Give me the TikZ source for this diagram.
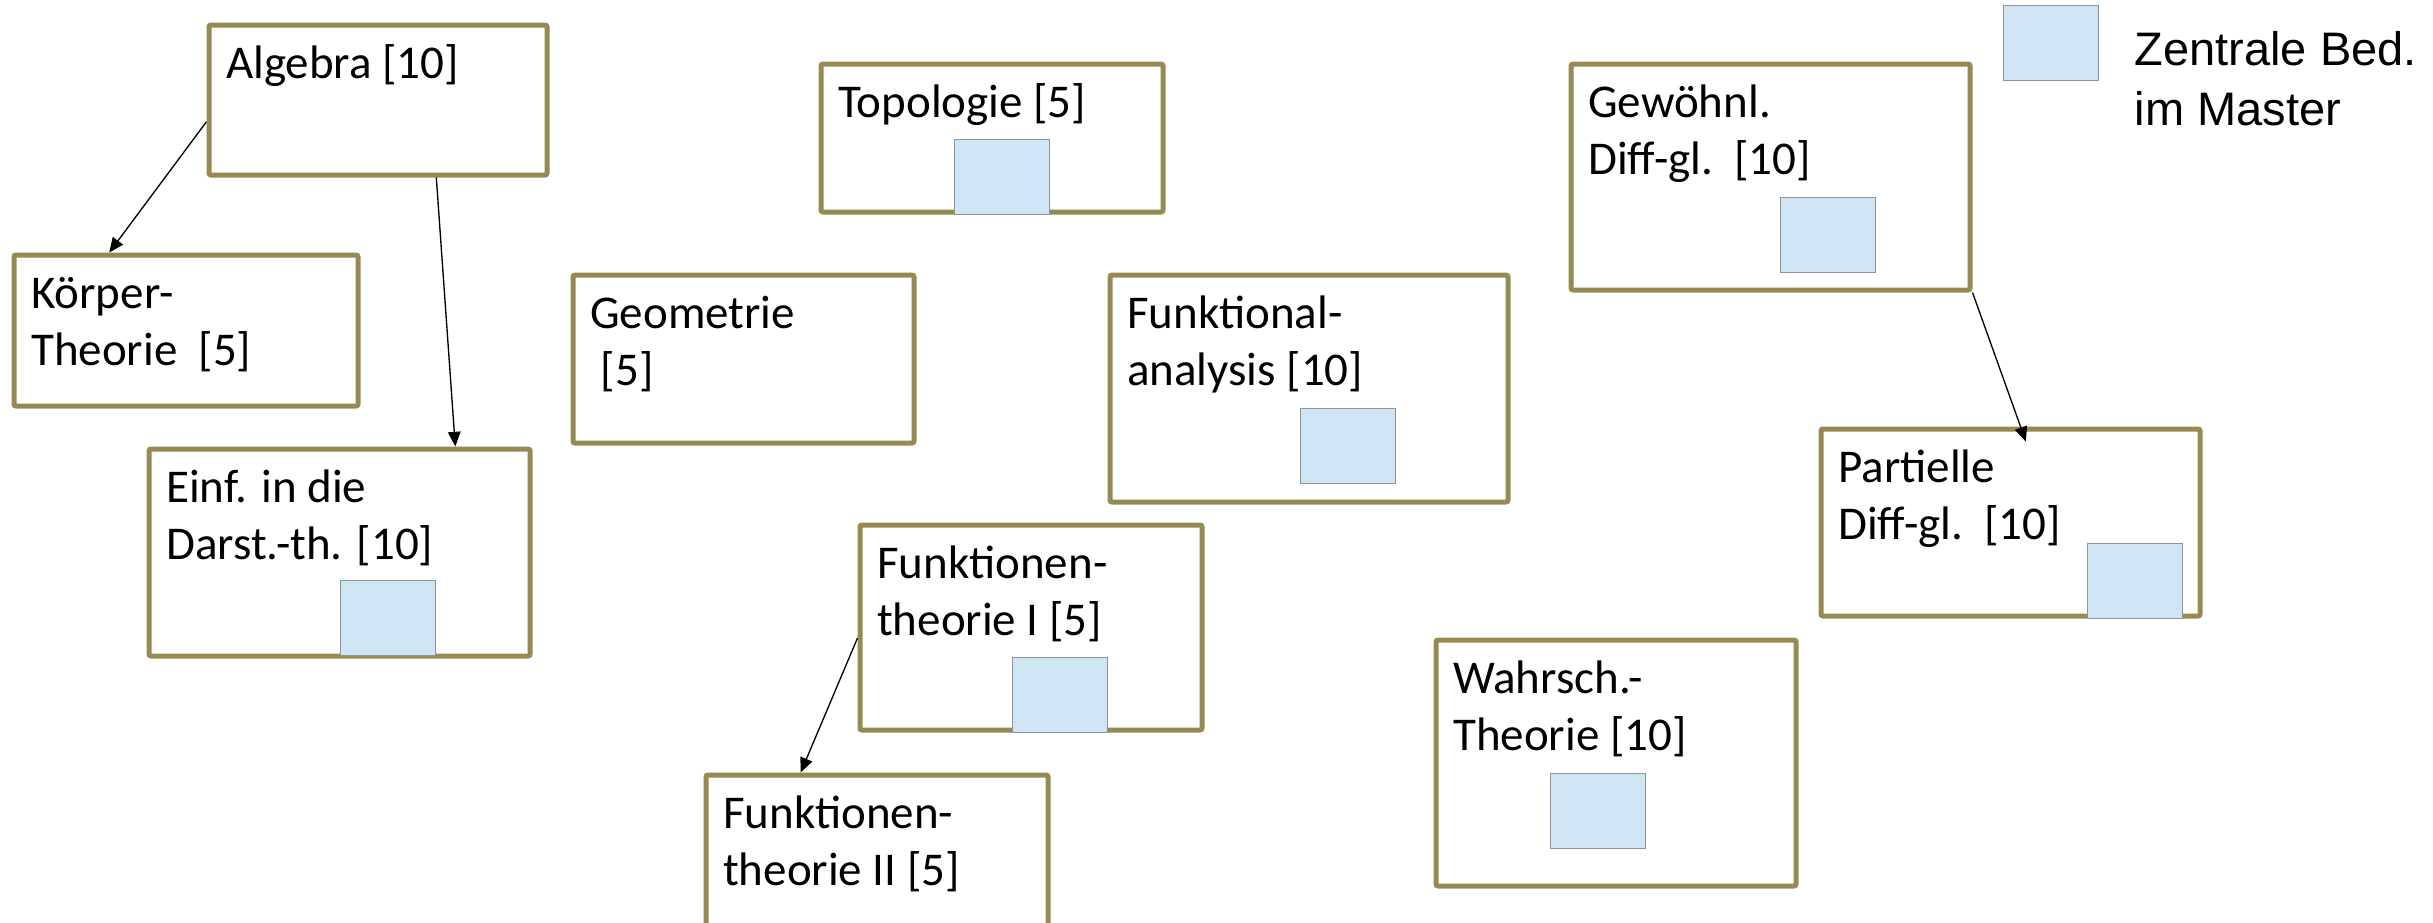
\documentclass[tikz,border=0pt]{standalone}
\usepackage{fontspec}
\setmainfont{Carlito}
\newfontfamily\legendfont{Liberation Sans}
\usepackage{tikz}
\usetikzlibrary{arrows.meta, calc}

\definecolor{boxolive}{HTML}{968A52}
\definecolor{masterblue}{HTML}{CFE5F3}
\definecolor{mastergray}{HTML}{8E9499}

\begin{document}
\begin{tikzpicture}[x=0.3pt, y=-0.3pt,
    modul/.style={draw=boxolive, line width=1.5pt, rounded corners=0.6pt, fill=white, inner sep=0pt},
    titel/.style={anchor=base west, inner sep=0pt, align=left, font=\fontsize{14.1}{17.1}\selectfont},
    master/.style={draw=mastergray, line width=0.3pt, fill=masterblue, minimum width=28.5pt, minimum height=22.5pt, inner sep=0pt},
    pfeil/.style={-{Triangle[length=4.4pt, width=3.8pt]}, line width=0.4pt, black}]
    \clip (0,0) rectangle (2433,922);

    \node[modul, minimum width=101.4pt, minimum height=45pt]    (alg)     at (378,100)     {};
    \node[modul, minimum width=103.2pt, minimum height=45.3pt]  (koerper) at (186,330.5)   {};
    \node[modul, minimum width=114.3pt, minimum height=62.1pt]  (einf)    at (339.5,552.5) {};
    \node[modul, minimum width=102.6pt, minimum height=44.4pt]  (topo)    at (992,138)     {};
    \node[modul, minimum width=102.3pt, minimum height=50.4pt]  (geo)     at (743.5,359)   {};
    \node[modul, minimum width=119.4pt, minimum height=68.1pt]  (fana)    at (1309,388.5)  {};
    \node[modul, minimum width=102.6pt, minimum height=61.5pt]  (fth1)    at (1031,627.5)  {};
    \node[modul, minimum width=102.6pt, minimum height=61.5pt]  (fth2)    at (877,877.5)   {};
    \node[modul, minimum width=119.7pt, minimum height=67.8pt]  (gew)     at (1770.5,177)  {};
    \node[modul, minimum width=113.7pt, minimum height=56.1pt]  (part)    at (2010.5,522.5) {};
    \node[modul, minimum width=108pt,   minimum height=73.8pt]  (wahr)    at (1616,763)    {};

    % base = letzte Zeile
    \node[titel] (alg-t)     at ([shift={(19,56)}]alg.north west)      {Algebra [10]};
    \node[titel] (koerper-t) at ([shift={(19,113)}]koerper.north west) {Körper-\\Theorie\ \ [5]};
    \node[titel] (einf-t)    at ([shift={(19,113)}]einf.north west)    {Einf. in die\\Darst.-th. [10]};
    \node[titel] (topo-t)    at ([shift={(19,56)}]topo.north west)     {Topologie [5]};
    \node[titel] (geo-t)     at ([shift={(19,113)}]geo.north west)     {Geometrie\\\ [5]};
    \node[titel] (fana-t)    at ([shift={(19,113)}]fana.north west)    {Funktional-\\analysis [10]};
    \node[titel] (fth1-t)    at ([shift={(19,113)}]fth1.north west)    {Funktionen-\\theorie I [5]};
    \node[titel] (fth2-t)    at ([shift={(19,113)}]fth2.north west)    {Funktionen-\\theorie II [5]};
    \node[titel] (gew-t)     at ([shift={(19,113)}]gew.north west)     {Gewöhnl.\\Diff-gl.\ \ [10]};
    \node[titel] (part-t)    at ([shift={(19,113)}]part.north west)    {Partielle\\Diff-gl.\ \ [10]};
    \node[titel] (wahr-t)    at ([shift={(19,113)}]wahr.north west)    {Wahrsch.-\\Theorie [10]};

    % zentrale Bedeutung im Master
    \node[master] (einf-m) at (388,618)     {};
    \node[master] (topo-m) at (1002,177)    {};
    \node[master] (fana-m) at (1347.5,445.5) {};
    \node[master] (fth1-m) at (1060,695)    {};
    \node[master] (gew-m)  at (1828,235)    {};
    \node[master] (part-m) at (2135,580.5)  {};
    \node[master] (wahr-m) at (1597.5,811)  {};

    \node[master] (legende) at (2051,43) {};
    \node[anchor=base west, inner sep=0pt, align=left, font=\legendfont\fontsize{14.1}{18}\selectfont]
        (legende-t) at ([shift={(35,120)}]legende.north east) {Zentrale Bed.\\im Master};

    \path
        ($(alg.north west)!0.64!(alg.south west)$)
            edge [pfeil] ($(koerper.north west)!0.28!(koerper.north east)$)
        ($(alg.south west)!0.67!(alg.south east)$)
            edge [pfeil] ($(einf.north west)!0.80!(einf.north east)$)
        ($(fth1.north west)!0.55!(fth1.south west)$)
            edge [pfeil] ($(fth2.north west)!0.28!(fth2.north east)$)
        (gew.south east)
            edge [pfeil] ($(part.north west)!0.54!(part.north east)+(0,15)$)
        ;
\end{tikzpicture}
\end{document}
